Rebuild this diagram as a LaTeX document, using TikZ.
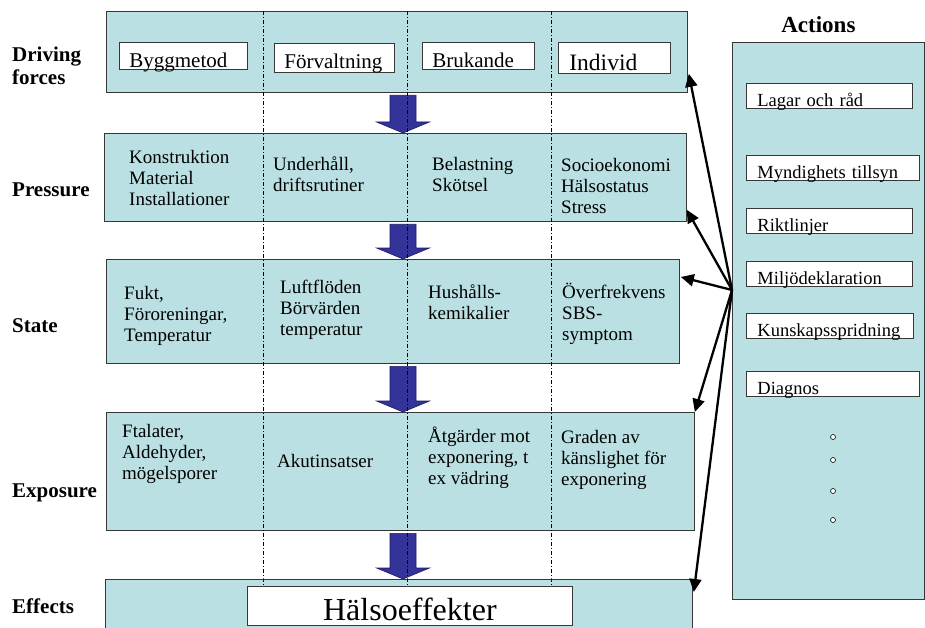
\documentclass[tikz,border=0pt]{standalone}
\usepackage{fontspec}
\setmainfont{Liberation Serif}
\usetikzlibrary{arrows.meta,positioning,calc}
\definecolor{rowCyan}{RGB}{187,224,227}
\definecolor{rowBorder}{RGB}{55,55,55}
\definecolor{flowBlue}{RGB}{51,51,153}
\definecolor{flowBorder}{RGB}{28,28,95}
\hyphenpenalty=10000
\tikzset{
  rowbox/.style={draw=rowBorder, fill=rowCyan, line width=0.8pt, anchor=north west, inner sep=0pt},
  rowlabel/.style={font=\fontsize{21}{23}\selectfont\bfseries, align=left, inner sep=0pt, anchor=west},
  cell/.style={font=\fontsize{19}{21}\selectfont, align=left, inner sep=0pt, anchor=west},
  drvitem/.style={draw=rowBorder, fill=white, line width=0.8pt, font=\fontsize{21}{23}\selectfont,
    align=left, inner xsep=10pt, inner ysep=0pt, text depth=2pt, text height=25pt,
    text width=#1, anchor=north west},
  actitem/.style={draw=rowBorder, fill=white, line width=0.8pt, font=\fontsize{18.5}{20}\selectfont,
    align=left, inner xsep=11pt, inner ysep=0pt, text depth=1.5pt, text height=23.5pt,
    text width=#1, anchor=north west},
  halsbox/.style={draw=rowBorder, fill=white, line width=0.8pt, font=\fontsize{32}{34}\selectfont,
    align=center, inner sep=0pt, text width=325pt, text height=34pt, text depth=5pt, anchor=north west},
  dot/.style={circle, draw=black, fill=white, line width=0.6pt, inner sep=0pt, minimum size=5pt},
  divider/.style={line width=0.6pt, dash pattern=on 4pt off 2pt on 1pt off 2pt},
  flowarr/.style={draw=flowBorder, fill=flowBlue, line width=0.6pt, line join=miter},
  actarr/.style={-{Triangle[length=13pt,width=12pt]}, line width=2.3pt, black},
}

\begin{document}
\begin{tikzpicture}[x=1pt, y=-1pt]
\clip (0,0) rectangle (925,628);

%% ROWS
\node[rowbox, minimum width=581pt, minimum height=81pt] (drv) at (106,11) {};
\node[rowbox, minimum width=582pt, minimum height=88pt] (prs) at (104,133) {};
\node[rowbox, minimum width=573pt, minimum height=104pt] (sta) at (106,259) {};
\node[rowbox, minimum width=588pt, minimum height=118pt] (exp) at (106,412) {};
\node[rowbox, minimum width=587pt, minimum height=60pt] (eff) at (105,579) {};

%% ROW LABELS
\node[rowlabel] (lDrv) at (12,66) {Driving\\forces};
\node[rowlabel] (lPrs) at (12,189.5) {Pressure};
\node[rowlabel] (lSta) at (12,326) {State};
\node[rowlabel] (lExp) at (12,493) {Exposure};
\node[rowlabel] (lEff) at (12,606) {Effects};

%% DRIVING FORCES
\node[drvitem=108pt] (bygg) at (119,42) {Byggmetod};
\node[drvitem=100pt, text depth=4pt] (forv) at (274,43) {Förvaltning};
\node[drvitem=92pt] (bruk) at (422,42) {Brukande};
\node[drvitem=90pt, inner xsep=11pt, text depth=3pt, text height=28pt,
      font=\fontsize{23.5}{25}\selectfont] (indi) at (558,42) {Individ};

%% PRESSURE
\node[cell] (pKon) at (129,178) {Konstruktion\\Material\\Installationer};
\node[cell] (pUnd) at (273,174.5) {Underhåll,\\driftsrutiner};
\node[cell] (pBel) at (432,175) {Belastning\\Skötsel};
\node[cell] (pSoc) at (561,186) {Socioekonomi\\Hälsostatus\\Stress};

%% STATE
\node[cell] (sFuk) at (124,316) {Fukt,\\Föroreningar,\\Temperatur};
\node[cell] (sLuf) at (280,310) {Luftflöden\\Börvärden\\temperatur};
\node[cell] (sHus) at (428,302.5) {Hushålls-\\kemikalier};
\node[cell] (sOve) at (562,314) {Överfrekvens\\SBS-\\symptom};

%% EXPOSURE
\node[cell] (eFta) at (122,454) {Ftalater,\\Aldehyder,\\mögelsporer};
\node[cell] (eAku) at (277,460.5) {Akutinsatser};
\node[cell] (eAtg) at (428,458) {Åtgärder mot\\exponering, t\\ex vädring};
\node[cell] (eGra) at (561,460) {Graden av\\känslighet för\\exponering};

%% FLOW ARROWS
\coordinate (ax) at (403,0);
\foreach \a/\b in {drv/prs, prs/sta, sta/exp, exp/eff} {
  \draw[flowarr] ($(\a.south -| ax)+(-13,2.5)$) -- ++(26,0)
    -- ($(\b.north -| ax)+(13,-11)$) -- ++(13.5,0) -- (\b.north -| ax)
    -- ++(-26.5,-11) -- ++(13.5,0) -- cycle;
}

%% COLUMN DIVIDERS
\coordinate (d1) at (263,0);
\coordinate (d2) at (407,0);
\coordinate (d3) at (551,0);
\foreach \d in {d1,d2,d3}
  \draw[divider] (\d |- drv.north) -- (\d |- eff.north) -- ++(0,7);

%% EFFECTS
\node[halsbox] (hals) at (247,586) {Hälsoeffekter};

%% ACTIONS
\node[rowbox, minimum width=192pt, minimum height=557pt] (act) at (732,42) {};
\node[rowlabel, font=\fontsize{23}{25}\selectfont\bfseries,
      above=9.5pt of act, xshift=-10pt] (lAct) {Actions};
\node[actitem=144pt] (aLag) at (746,83) {Lagar och råd};
\node[actitem=151pt] (aMyn) at (746,155) {Myndighets tillsyn};
\node[actitem=144pt] (aRik) at (746,208) {Riktlinjer};
\node[actitem=144pt] (aMil) at (746,261) {Miljödeklaration};
\node[actitem=145pt] (aKun) at (746,313) {Kunskapsspridning};
\node[actitem=151pt] (aDia) at (746,371) {Diagnos};
\foreach \y in {437,460,491,520}
  \node[dot] (dot\y) at (833,\y) {};

%% ACTION ARROWS
\coordinate (hub) at ($(act.north west)+(0,248)$);
\draw[actarr] (hub) -- ($(drv.south east)+(1,-19)$);
\draw[actarr] (hub) -- ($(prs.south east)+(0,-12)$);
\draw[actarr] (hub) -- ($(sta.north east)+(1,18)$);
\draw[actarr] (hub) -- (exp.north east);
\draw[actarr] (hub) -- ($(eff.north east)+(1,13)$);

\end{tikzpicture}
\end{document}
